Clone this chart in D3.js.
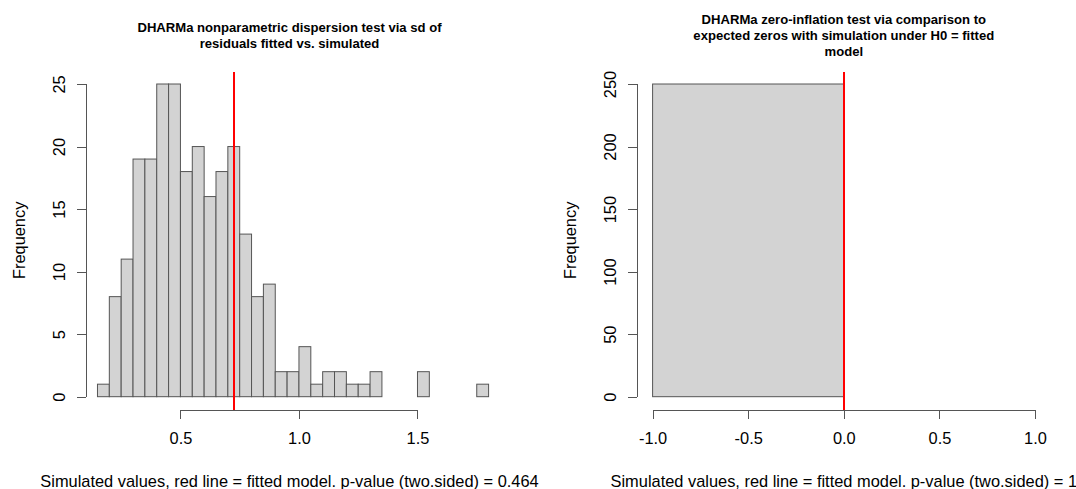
<!DOCTYPE html>
<html>
<head>
<meta charset="utf-8">
<script src="https://cdn.jsdelivr.net/npm/d3@7"></script>
<style>
  body { margin: 0; background: #fff; }
  svg text { font-family: "Liberation Sans", Arial, sans-serif; fill: #000; }
</style>
</head>
<body>
<div id="chart"></div>
<script>
// left panel: dispersion test, bins of simulated sd values
const dispBreaks = [0.15, 0.20, 0.25, 0.30, 0.35, 0.40, 0.45, 0.50, 0.55, 0.60, 0.65,
                    0.70, 0.75, 0.80, 0.85, 0.90, 0.95, 1.00, 1.05, 1.10, 1.15, 1.20,
                    1.25, 1.30, 1.35, 1.40, 1.45, 1.50, 1.55, 1.60, 1.65, 1.70, 1.75, 1.80];
const dispCounts = [1, 8, 11, 19, 19, 25, 25, 18, 20, 16, 18, 20, 13, 8, 9, 2, 2,
                    4, 1, 2, 2, 1, 1, 2, 0, 0, 0, 2, 0, 0, 0, 0, 1];
const dispObserved = 0.725;
const dispXTicks = [0.5, 1.0, 1.5];
const dispYTicks = [0, 5, 10, 15, 20, 25];

// right panel: zero-inflation test
const zeroBreaks = [-1, 0];
const zeroCounts = [250];
const zeroObserved = 0;
const zeroXTicks = [-1.0, -0.5, 0.0, 0.5, 1.0];
const zeroYTicks = [0, 50, 100, 150, 200, 250];

const dispTitle = ["DHARMa nonparametric dispersion test via sd of", "residuals fitted vs. simulated"];
const zeroTitle = ["DHARMa zero-inflation test via comparison to", "expected zeros with simulation under H0 = fitted", "model"];
const dispXlab = "Simulated values, red line = fitted model. p-value (two.sided) = 0.464";
const zeroXlab = "Simulated values, red line = fitted model. p-value (two.sided) = 1";

const width = 1076, height = 489;

const svg = d3.select("#chart")
              .append("svg")
                .attr("width", width)
                .attr("height", height)
                .style("background", "#fff");

// R prints a plain hyphen, not the unicode minus d3.format gives
const fmt1 = d => d.toFixed(1);

function drawPanel(opts) {
  const binData = opts.counts.map((c, i) => ({x0: opts.breaks[i], x1: opts.breaks[i + 1], n: c}));

  const x = d3.scaleLinear().domain(opts.xlim).range([opts.left, opts.right]);
  const y = d3.scaleLinear().domain(opts.ylim).range([409.2, 71.5]);

  const g = svg.append("g");

  // bars (empty bins are drawn as flat rects like R does)
  g.append("g")
   .selectAll("rect")
   .data(binData)
   .join("rect")
     .attr("x", d => x(d.x0))
     .attr("y", d => y(d.n))
     .attr("width", d => x(d.x1) - x(d.x0))
     .attr("height", d => y(0) - y(d.n))
     .attr("fill", "#d3d3d3")
     .attr("stroke", "#555")
     .attr("stroke-width", 1);

  // red line = observed value
  g.append("line")
     .attr("x1", x(opts.observed)).attr("x2", x(opts.observed))
     .attr("y1", 71.5).attr("y2", 410)
     .attr("stroke", "#ff0000")
     .attr("stroke-width", 1.8);

  // x axis
  const xAxis = g.append("g")
     .attr("transform", "translate(0,410)")
     .call(d3.axisBottom(x).tickValues(opts.xTicks).tickSize(9.3).tickPadding(13.5)
             .tickFormat(fmt1));
  xAxis.select(".domain").remove();
  xAxis.append("line")
     .attr("x1", x(opts.xTicks[0])).attr("x2", x(opts.xTicks[opts.xTicks.length - 1]))
     .attr("stroke", "#555");
  xAxis.selectAll("line").attr("stroke", "#555");
  xAxis.selectAll("text").style("font-size", "16.4px").attr("fill", "#000");

  // y axis, labels rotated like R's las=0
  const yAxis = g.append("g")
     .attr("transform", `translate(${opts.left},0)`)
     .call(d3.axisLeft(y).tickValues(opts.yTicks).tickSize(9.3));
  yAxis.select(".domain").remove();
  yAxis.append("line")
     .attr("y1", y(opts.yTicks[0])).attr("y2", y(opts.yTicks[opts.yTicks.length - 1]))
     .attr("stroke", "#555");
  yAxis.selectAll("line").attr("stroke", "#555");
  yAxis.selectAll(".tick text")
     .attr("transform", "rotate(-90)")
     .attr("x", 0)
     .attr("y", -21)
     .attr("dy", null)
     .attr("text-anchor", "middle")
     .style("font-size", "16.4px");

  svg.selectAll("path, line").attr("shape-rendering", "crispEdges");

  const cx = (opts.left + opts.right) / 2;

  // title, centred vertically around y = 35
  const lh = 15.8;
  const t0 = 35 - (opts.title.length - 1) * lh / 2 + 4.7;
  g.append("text")
     .attr("text-anchor", "middle")
     .style("font-size", "13.1px")
     .style("font-weight", "bold")
     .selectAll("tspan")
     .data(opts.title)
     .join("tspan")
       .attr("x", cx)
       .attr("y", (d, i) => t0 + i * lh)
       .text(d => d);

  // x label
  g.append("text")
     .attr("x", cx).attr("y", 487)
     .attr("text-anchor", "middle")
     .style("font-size", "16.4px")
     .text(opts.xlab);

  // y label
  g.append("text")
     .attr("transform", `translate(${opts.left - 61},${(71.5 + 409.2) / 2}) rotate(-90)`)
     .attr("text-anchor", "middle")
     .style("font-size", "16.4px")
     .text("Frequency");
}

drawPanel({
  breaks: dispBreaks, counts: dispCounts, observed: dispObserved,
  xTicks: dispXTicks, yTicks: dispYTicks,
  xlim: [0.1016, 1.8186], ylim: [-1, 26],
  left: 86, right: 493,
  title: dispTitle, xlab: dispXlab
});

drawPanel({
  breaks: zeroBreaks, counts: zeroCounts, observed: zeroObserved,
  xTicks: zeroXTicks, yTicks: zeroYTicks,
  xlim: [-1.08, 1.08], ylim: [-10, 260],
  left: 637.3, right: 1050.3,
  title: zeroTitle, xlab: zeroXlab
});
</script>
</body>
</html>
